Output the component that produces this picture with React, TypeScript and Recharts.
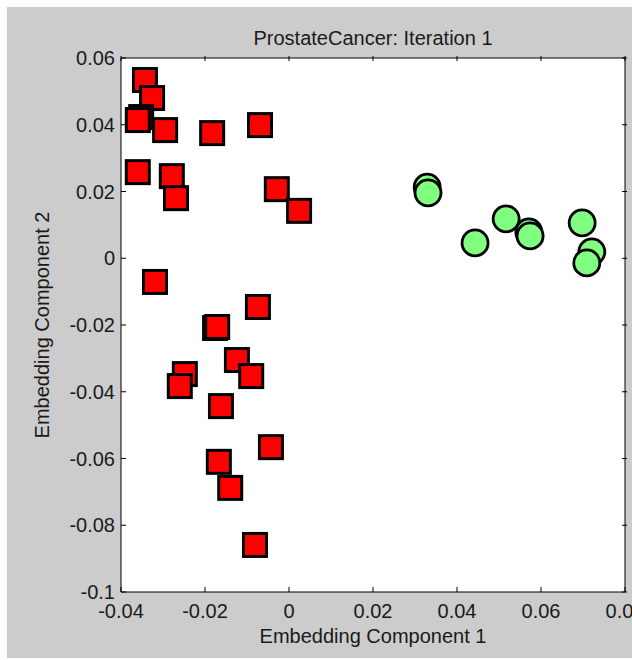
import React from "react";
import {
  ScatterChart,
  Scatter,
  XAxis,
  YAxis,
  CartesianGrid,
} from "recharts";

// embedding coordinates, class 1 (red squares)
const squareX = [
  -0.0343, -0.0326, -0.0352, -0.036, -0.0295, -0.0183, -0.0069, -0.036, -0.0279,
  -0.0269, -0.0029, 0.0024, -0.0319, -0.0074, -0.0176, -0.0171, -0.0124, -0.0248,
  -0.026, -0.009, -0.0162, -0.0043, -0.0167, -0.014, -0.0081,
];
const squareY = [
  0.0534, 0.048, 0.0423, 0.0414, 0.0384, 0.0375, 0.0399, 0.0258, 0.0246, 0.018,
  0.0207, 0.0142, -0.0071, -0.0146, -0.0209, -0.0206, -0.0305, -0.0347, -0.0383,
  -0.0353, -0.0443, -0.0566, -0.061, -0.0688, -0.0859,
];

// embedding coordinates, class 2 (green circles)
const circleX = [0.0329, 0.0331, 0.0443, 0.0517, 0.0571, 0.0574, 0.0698, 0.0721, 0.0709];
const circleY = [0.0213, 0.0196, 0.0046, 0.0118, 0.0079, 0.0067, 0.0106, 0.0019, -0.0014];

const xTicks = [-0.04, -0.02, 0, 0.02, 0.04, 0.06, 0.08];
const yTicks = [0.06, 0.04, 0.02, 0, -0.02, -0.04, -0.06, -0.08, -0.1];

const squares = squareX.map((x, i) => ({ x, y: squareY[i] }));
const circles = circleX.map((x, i) => ({ x, y: circleY[i] }));

const FONT = "'Liberation Sans', Arial, sans-serif";
const FS = 20;
const TEXT = "#1a1a1a";
const fmt = (v: number) => String(Number(v.toFixed(2)));

const SquareMark = (props: any) => {
  const { cx, cy } = props;
  return (
    <rect x={cx - 11.5} y={cy - 11.5} width={23} height={23} fill="#ff0000" stroke="#000" strokeWidth={3} />
  );
};

const CircleMark = (props: any) => {
  const { cx, cy } = props;
  return <circle cx={cx} cy={cy} r={13} fill="#80ff80" stroke="#000" strokeWidth={2.8} />;
};

const BottomTick = ({ x, y, payload }: any) => (
  <g>
    <line x1={x} x2={x} y1={y} y2={y - 5} stroke="#000" />
    <text x={x} y={y + 26} textAnchor="middle" fontSize={FS} fontFamily={FONT} fill={TEXT}>
      {fmt(payload.value)}
    </text>
  </g>
);

const LeftTick = ({ x, y, payload }: any) => (
  <g>
    <line x1={x} x2={x + 5} y1={y} y2={y} stroke="#000" />
    <text x={x - 6} y={y + 7} textAnchor="end" fontSize={FS} fontFamily={FONT} fill={TEXT}>
      {fmt(payload.value)}
    </text>
  </g>
);

const TopTick = ({ x, y }: any) => <line x1={x} x2={x} y1={y} y2={y + 5} stroke="#000" />;
const RightTick = ({ x, y }: any) => <line x1={x} x2={x - 5} y1={y} y2={y} stroke="#000" />;

export default function App() {
  return (
    <div style={{ position: "absolute", left: 0, top: 0, width: 632, height: 660, background: "#fff" }}>
      <div style={{ position: "absolute", left: 7, top: 7, width: 625, height: 651, background: "#cccccc" }} />
      <div style={{ position: "absolute", left: 0, top: 0 }}>
        <ScatterChart width={632} height={660} margin={{ top: 57, right: 6, bottom: 28, left: 61 }}>
          <CartesianGrid horizontal={false} vertical={false} fill="#ffffff" />
          <XAxis
            xAxisId="bottom"
            type="number"
            dataKey="x"
            domain={[-0.04, 0.08]}
            ticks={xTicks}
            allowDataOverflow
            height={40}
            tickSize={0}
            tickMargin={0}
            tickLine={false}
            axisLine={{ stroke: "#000" }}
            tick={<BottomTick />}
            interval={0}
            label={{
              value: "Embedding Component 1",
              position: "insideBottom",
              offset: -11,
              fontSize: FS,
              fontFamily: FONT,
              fill: TEXT,
            }}
          />
          <XAxis
            xAxisId="top"
            orientation="top"
            type="number"
            dataKey="x"
            domain={[-0.04, 0.08]}
            ticks={xTicks}
            allowDataOverflow
            height={1}
            tickSize={0}
            tickLine={false}
            axisLine={{ stroke: "#000" }}
            tick={<TopTick />}
            interval={0}
            label={{
              value: "ProstateCancer: Iteration 1",
              position: "top",
              offset: 12,
              fontSize: FS,
              fontFamily: FONT,
              fill: TEXT,
            }}
          />
          <YAxis
            yAxisId="left"
            type="number"
            dataKey="y"
            domain={[-0.1, 0.06]}
            ticks={yTicks}
            allowDataOverflow
            width={60}
            tickSize={0}
            tickMargin={0}
            tickLine={false}
            axisLine={{ stroke: "#000" }}
            tick={<LeftTick />}
            interval={0}
            label={{
              value: "Embedding Component 2",
              angle: -90,
              position: "insideLeft",
              offset: -19,
              style: { textAnchor: "middle" },
              fontSize: FS,
              fontFamily: FONT,
              fill: TEXT,
            }}
          />
          <YAxis
            yAxisId="right"
            orientation="right"
            type="number"
            dataKey="y"
            domain={[-0.1, 0.06]}
            ticks={yTicks}
            allowDataOverflow
            width={1}
            tickSize={0}
            tickLine={false}
            axisLine={{ stroke: "#000" }}
            tick={<RightTick />}
            interval={0}
          />
          <Scatter
            data={squares}
            xAxisId="bottom"
            yAxisId="left"
            shape={<SquareMark />}
            isAnimationActive={false}
          />
          <Scatter
            data={circles}
            xAxisId="bottom"
            yAxisId="left"
            shape={<CircleMark />}
            isAnimationActive={false}
          />
        </ScatterChart>
      </div>
    </div>
  );
}
